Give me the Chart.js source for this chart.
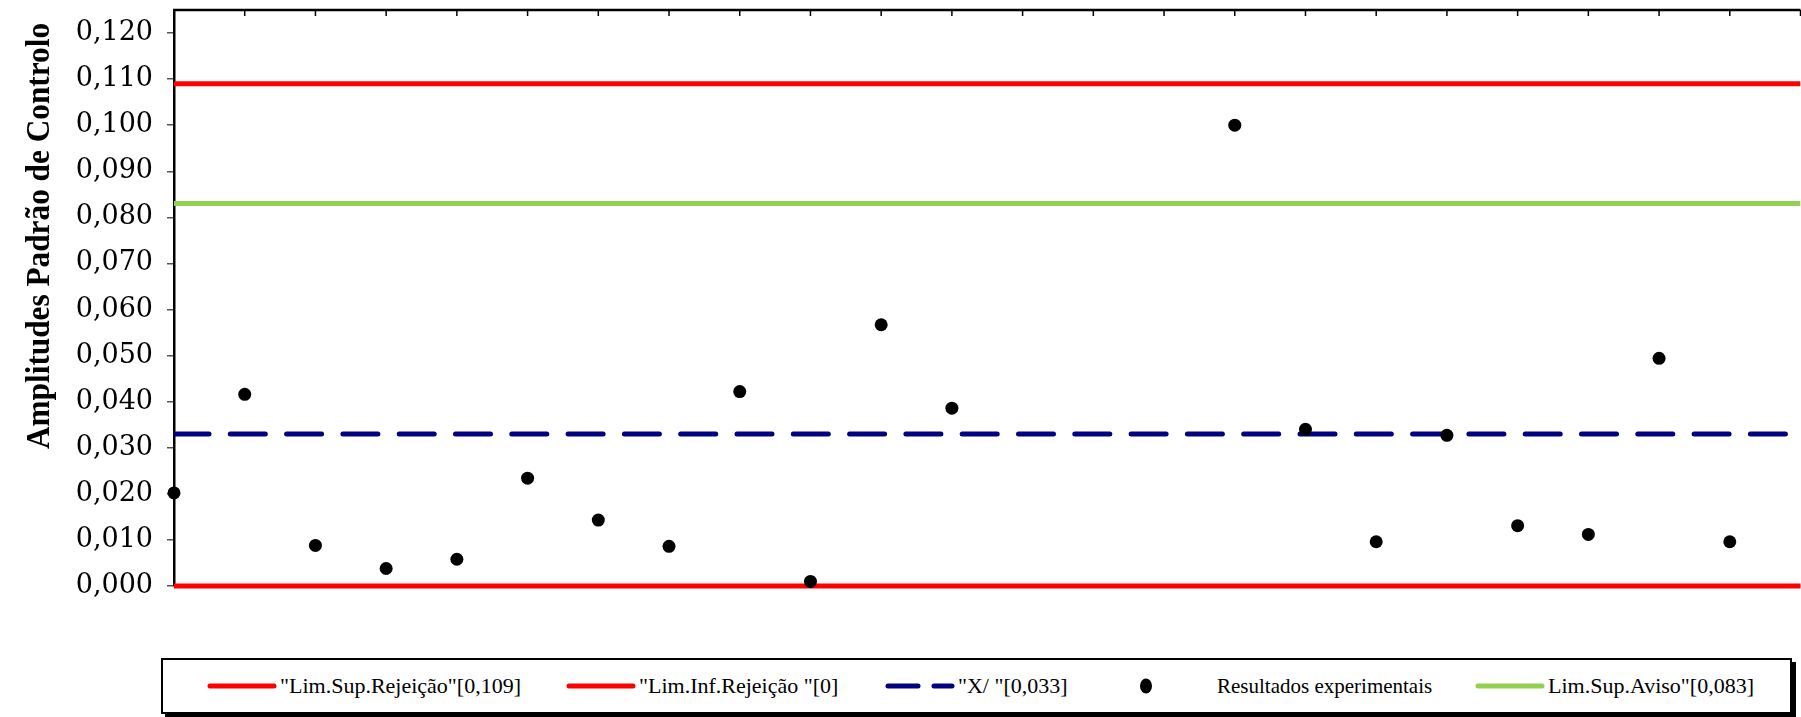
<!DOCTYPE html>
<html>
<head>
<meta charset="utf-8">
<script src="https://cdn.jsdelivr.net/npm/chart.js@4.4.1/dist/chart.umd.min.js"></script>
<style>
    body { margin: 0; background: #fff; overflow: hidden; width: 1801px; height: 717px; position: relative; }
    #chart { position: absolute; left: 0; top: 0; }
    .legend { position: absolute; left: 161px; top: 658px; width: 1627px; height: 52px; border: 2px solid #000; box-shadow: 4px 4px 0 #000; background: #fff; font-family: "Liberation Serif", serif; font-size: 22px; color: #000; }
    .legend .item { position: absolute; top: 0; height: 52px; display: flex; align-items: center; white-space: nowrap; }
</style>
</head>
<body>
<canvas id="chart" width="1807" height="640"></canvas>
<div class="legend" id="legend"></div>
<script>
// Chart data
const points = [0, 1, 2, 3, 4, 5, 6, 7, 8, 9, 10, 11, 12, 13, 14, 15, 16, 17, 18, 19, 20, 21, 22];
const resultados = [0.0202, 0.0416, 0.0088, 0.0038, 0.0058, 0.0234, 0.0143, 0.0086, 0.0422, 0.0010, 0.0567, 0.0386,
    null, null, null, 0.1000, 0.0340, 0.0096, 0.0327, 0.0131, 0.0112, 0.0494, 0.0096];
const limSupRejeicao = 0.109;
const limInfRejeicao = 0;
const media = 0.033;
const limSupAviso = 0.083;
const yTicks = [0, 0.01, 0.02, 0.03, 0.04, 0.05, 0.06, 0.07, 0.08, 0.09, 0.10, 0.11, 0.12];
const xMin = 0, xMax = 23;

const labels = {
    sup: '"Lim.Sup.Rejeição"[0,109]',
    inf: '"Lim.Inf.Rejeição "[0]',
    media: '"X/ "[0,033]',
    res: 'Resultados experimentais',
    aviso: 'Lim.Sup.Aviso"[0,083]'
};

function hline(v) {
    return [{ x: xMin, y: v }, { x: xMax, y: v }];
}

// Top border with inward tick marks + rotated y title
const framePlugin = {
    id: 'frame',
    afterDraw(chart) {
        const { ctx, chartArea, scales } = chart;
        ctx.save();
        ctx.strokeStyle = '#000';
        ctx.lineWidth = 2.5;
        ctx.beginPath();
        ctx.moveTo(chartArea.left - 1, chartArea.top);
        ctx.lineTo(chartArea.right, chartArea.top);
        ctx.stroke();
        ctx.lineWidth = 1.5;
        for (let i = xMin + 1; i <= xMax; i++) {
            const px = scales.x.getPixelForValue(i);
            ctx.beginPath();
            ctx.moveTo(px, chartArea.top);
            ctx.lineTo(px, chartArea.top + 6);
            ctx.stroke();
        }
        ctx.translate(40, 236);
        ctx.rotate(-Math.PI / 2);
        ctx.scale(0.92, 1);
        ctx.font = 'bold 34px "Liberation Serif", serif';
        ctx.fillStyle = '#000';
        ctx.textAlign = 'center';
        ctx.textBaseline = 'middle';
        ctx.fillText('Amplitudes Padrão de Controlo', 0, 0);
        ctx.restore();
    }
};

const ctx = document.getElementById('chart').getContext('2d');
const chart = new Chart(ctx, {
    type: 'scatter',
    data: {
        datasets: [
            { label: labels.res, data: points.map((p, i) => ({ x: p, y: resultados[i] })), showLine: false,
              pointRadius: 6.5, pointBackgroundColor: '#000', pointBorderColor: '#000', pointBorderWidth: 0,
              clip: false, order: 0 },
            { label: labels.sup, data: hline(limSupRejeicao), showLine: true, borderColor: '#FF0000', borderWidth: 5,
              pointRadius: 0, order: 2 },
            { label: labels.inf, data: hline(limInfRejeicao), showLine: true, borderColor: '#FF0000', borderWidth: 5,
              pointRadius: 0, clip: false, order: 2 },
            { label: labels.media, data: hline(media), showLine: true, borderColor: '#000080', borderWidth: 5,
              borderDash: [35, 21.3], borderCapStyle: 'round', pointRadius: 0, order: 2 },
            { label: labels.aviso, data: hline(limSupAviso), showLine: true, borderColor: '#92D050', borderWidth: 5,
              pointRadius: 0, order: 2 }
        ]
    },
    options: {
        responsive: false,
        animation: false,
        layout: { padding: { top: 10, bottom: 54, left: 0, right: 0 } },
        plugins: { legend: { display: false }, tooltip: { enabled: false } },
        scales: {
            x: { type: 'linear', min: xMin, max: xMax, display: false },
            y: {
                min: 0, max: 0.125,
                afterBuildTicks: (s) => { s.ticks = yTicks.map(v => ({ value: v })); },
                afterFit: (s) => { s.width = 174; s.paddingTop = 0; s.paddingBottom = 0; },
                border: { display: true, color: '#000', width: 2.5 },
                grid: { drawOnChartArea: false, drawTicks: true, tickLength: 7, color: '#555', lineWidth: 1.5 },
                ticks: {
                    padding: 14, color: '#000',
                    font: { family: '"DejaVu Serif", serif', size: 27 },
                    callback: (v) => v.toFixed(3).replace('.', ',')
                }
            }
        }
    },
    plugins: [framePlugin]
});

// Legend (HTML), built from the datasets
const legendItems = [
    { ds: 1, left: 43, kind: 'line' },
    { ds: 2, left: 402, kind: 'line' },
    { ds: 3, left: 721, kind: 'dash' },
    { ds: 0, left: 968, kind: 'dot' },
    { ds: 4, left: 1311, kind: 'line' }
];
const legend = document.getElementById('legend');
legendItems.forEach(it => {
    const ds = chart.data.datasets[it.ds];
    const el = document.createElement('div');
    el.className = 'item';
    el.style.left = it.left + 'px';
    const sw = document.createElement('canvas');
    sw.width = it.kind === 'dot' ? 30 : 72;
    sw.height = 16;
    sw.style.marginRight = it.kind === 'dot' ? '56px' : '2px';
    const c = sw.getContext('2d');
    if (it.kind === 'dot') {
        c.fillStyle = '#000';
        c.beginPath();
        c.ellipse(sw.width / 2, 8, 6, 7.5, 0, 0, Math.PI * 2);
        c.fill();
    } else {
        c.strokeStyle = ds.borderColor;
        c.lineWidth = 5;
        c.lineCap = 'round';
        if (it.kind === 'dash') c.setLineDash([30, 16]);
        c.beginPath();
        c.moveTo(4, 8);
        c.lineTo(sw.width - 4, 8);
        c.stroke();
    }
    el.appendChild(sw);
    const t = document.createElement('span');
    t.textContent = ds.label;
    if (it.kind === 'dot') t.style.fontSize = '21px';
    el.appendChild(t);
    legend.appendChild(el);
});
</script>
</body>
</html>
